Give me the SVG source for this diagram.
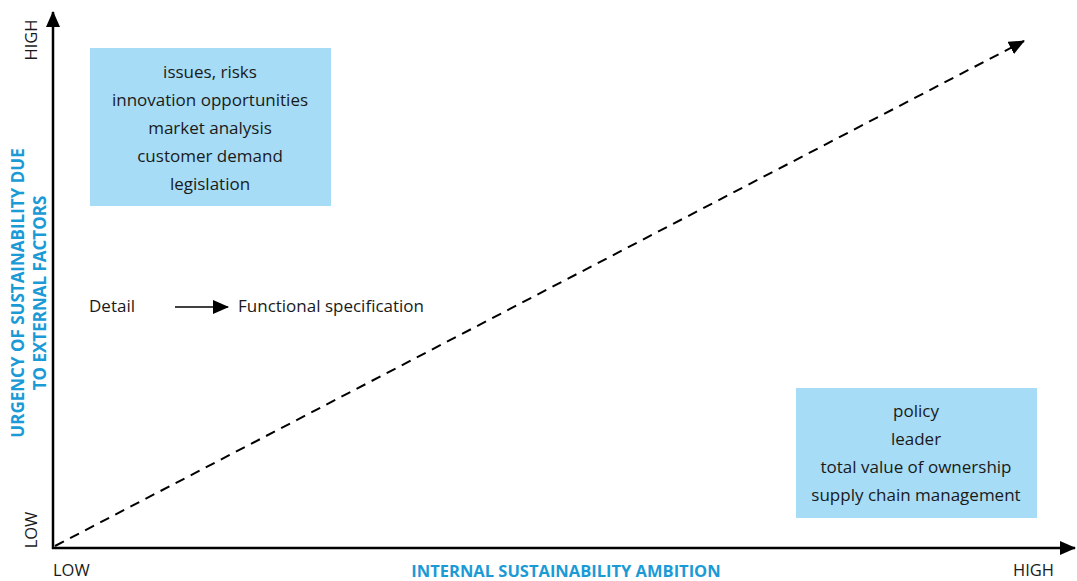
<svg xmlns="http://www.w3.org/2000/svg" width="1077" height="581" viewBox="0 0 1077 581">
<style>
.t{font-family:"Open Sans","Noto Sans",sans-serif;font-size:17px;fill:#1a1a1a}
.c{text-anchor:middle}
.ax{font-family:"Open Sans","Noto Sans",sans-serif;font-size:16.5px;fill:#1a1a1a}
.ttl{font-family:"Open Sans","Noto Sans",sans-serif;font-size:16.5px;font-weight:bold;fill:#1b9ad6;text-anchor:middle}
.ttly{font-size:17px}
.box{fill:#a6dcf5}
</style>
<defs>
<marker id="ahb" markerWidth="16" markerHeight="14" refX="15" refY="7" orient="auto" markerUnits="userSpaceOnUse" viewBox="0 0 16 14"><path d="M0,0 L16,7 L0,14 z" fill="#000"/></marker>
</defs>
<g id="connectors" stroke="#000" fill="none">
<line x1="53" y1="549" x2="53" y2="12" stroke-width="2.5" marker-end="url(#ahb)"/>
<line x1="52" y1="548" x2="1075" y2="548" stroke-width="2.5" marker-end="url(#ahb)"/>
<line x1="55" y1="546" x2="1024" y2="41" stroke-width="2" stroke-dasharray="10,7" marker-end="url(#ahb)"/>
<line x1="175" y1="307" x2="228" y2="307" stroke-width="1.5" marker-end="url(#ahb)"/>
</g>
<g id="box-external">
<rect class="box" x="90" y="48" width="241" height="158"/>
<text class="t c" x="210" y="78">issues, risks</text>
<text class="t c" x="210" y="106">innovation opportunities</text>
<text class="t c" x="210" y="134">market analysis</text>
<text class="t c" x="210" y="162">customer demand</text>
<text class="t c" x="210" y="190">legislation</text>
</g>
<g id="box-internal">
<rect class="box" x="796" y="388" width="241" height="130"/>
<text class="t c" x="916" y="417">policy</text>
<text class="t c" x="916" y="445">leader</text>
<text class="t c" x="916" y="473">total value of ownership</text>
<text class="t c" x="916" y="501">supply chain management</text>
</g>
<g id="detail">
<text class="t" x="89" y="312">Detail</text>
<text class="t" x="238" y="312">Functional specification</text>
</g>
<g id="axis-labels">
<text class="ax c" transform="translate(37,40) rotate(-90)">HIGH</text>
<text class="ax c" transform="translate(37,530) rotate(-90)">LOW</text>
<text class="ax" x="53" y="576">LOW</text>
<text class="ax" x="1013" y="576">HIGH</text>
<text class="ttl" x="566" y="577">INTERNAL SUSTAINABILITY AMBITION</text>
<text class="ttl ttly" transform="translate(24,293) rotate(-90)">URGENCY OF SUSTAINABILITY DUE</text>
<text class="ttl ttly" transform="translate(46,293) rotate(-90)">TO EXTERNAL FACTORS</text>
</g>
</svg>
